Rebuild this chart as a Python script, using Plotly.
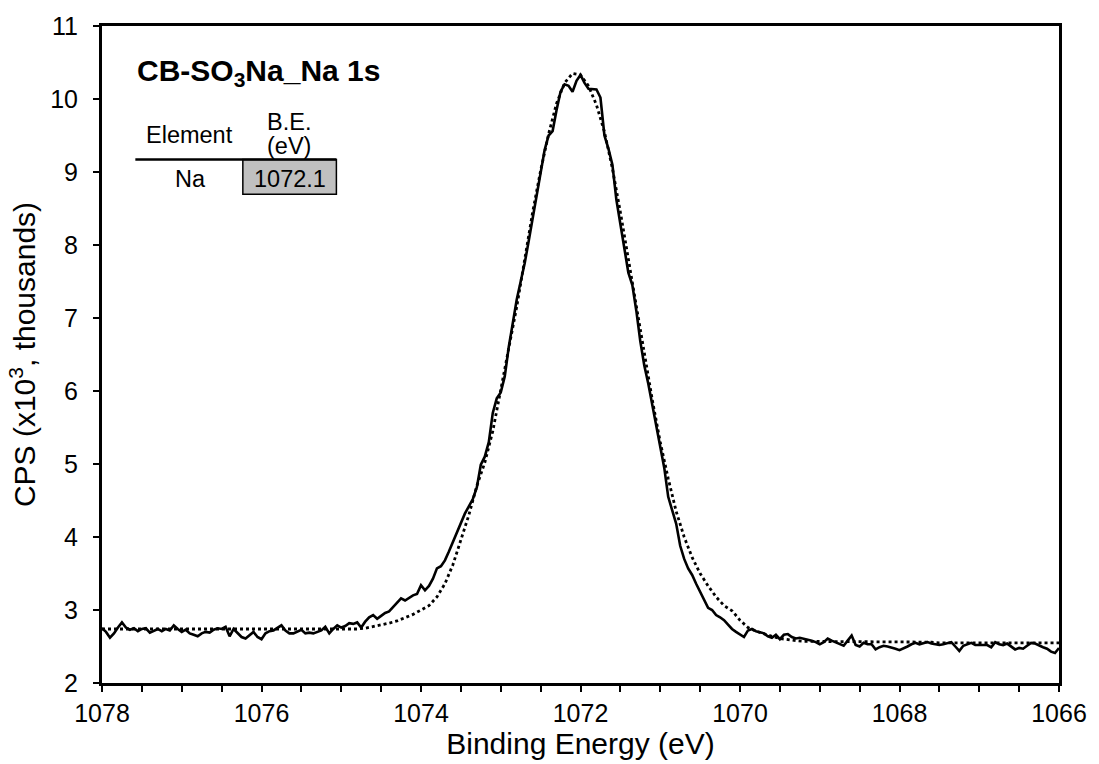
import numpy as np
import plotly.graph_objects as go

# Binding-energy grids (eV), high to low
be_meas = np.round(np.arange(1078.0, 1065.999, -0.05), 2)
be_fit = np.round(np.arange(1078.0, 1065.999, -0.1), 2)

# Measured Na 1s spectrum (CPS x10^3), 0.05 eV step
cps_meas = [
    2.75, 2.70, 2.62, 2.68, 2.76, 2.83, 2.76, 2.73, 2.75, 2.71,
    2.74, 2.75, 2.69, 2.72, 2.74, 2.71, 2.74, 2.72, 2.79, 2.74,
    2.70, 2.73, 2.68, 2.66, 2.64, 2.68, 2.70, 2.69, 2.73, 2.75,
    2.74, 2.77, 2.64, 2.74, 2.68, 2.63, 2.61, 2.66, 2.70, 2.63,
    2.60, 2.68, 2.71, 2.72, 2.75, 2.79, 2.72, 2.68, 2.68, 2.71,
    2.73, 2.68, 2.69, 2.68, 2.70, 2.72, 2.77, 2.68, 2.74, 2.79,
    2.76, 2.78, 2.82, 2.81, 2.83, 2.76, 2.84, 2.90, 2.93, 2.88,
    2.92, 2.96, 2.98, 3.04, 3.09, 3.16, 3.13, 3.17, 3.20, 3.22,
    3.34, 3.27, 3.33, 3.43, 3.57, 3.60, 3.68, 3.80, 3.93, 4.05,
    4.17, 4.32, 4.42, 4.52, 4.68, 4.99, 5.10, 5.30, 5.70, 5.90,
    5.98, 6.20, 6.60, 6.95, 7.25, 7.50, 7.75, 8.05, 8.35, 8.65,
    8.95, 9.30, 9.50, 9.56, 9.85, 10.10, 10.20, 10.18, 10.10, 10.25,
    10.33, 10.22, 10.14, 10.13, 10.13, 10.02, 9.50, 9.32, 9.10, 8.62,
    8.30, 7.92, 7.62, 7.45, 7.10, 6.68, 6.35, 6.10, 5.82, 5.55,
    5.25, 4.95, 4.55, 4.36, 4.18, 3.88, 3.70, 3.57, 3.48, 3.36,
    3.25, 3.12, 3.03, 3.00, 2.93, 2.90, 2.86, 2.80, 2.74, 2.70,
    2.66, 2.63, 2.72, 2.74, 2.71, 2.70, 2.68, 2.64, 2.62, 2.66,
    2.60, 2.66, 2.67, 2.63, 2.61, 2.62, 2.61, 2.60, 2.58, 2.56,
    2.53, 2.56, 2.61, 2.58, 2.56, 2.53, 2.51, 2.58, 2.65, 2.52,
    2.50, 2.55, 2.53, 2.53, 2.46, 2.49, 2.51, 2.50, 2.49, 2.47,
    2.45, 2.47, 2.50, 2.53, 2.55, 2.53, 2.55, 2.56, 2.54, 2.53,
    2.52, 2.53, 2.54, 2.56, 2.50, 2.44, 2.51, 2.53, 2.55, 2.52,
    2.52, 2.51, 2.52, 2.49, 2.56, 2.53, 2.52, 2.54, 2.50, 2.46,
    2.48, 2.47, 2.51, 2.55, 2.54, 2.51, 2.49, 2.47, 2.43, 2.41,
    2.48,
]

# Fitted envelope (CPS x10^3), 0.1 eV step
cps_fit = [
    2.74, 2.74, 2.74, 2.74, 2.74, 2.74, 2.74, 2.74, 2.74, 2.74,
    2.74, 2.74, 2.74, 2.74, 2.74, 2.73, 2.73, 2.73, 2.73, 2.73,
    2.73, 2.73, 2.73, 2.73, 2.73, 2.73, 2.73, 2.73, 2.73, 2.73,
    2.73, 2.73, 2.74, 2.75, 2.77, 2.79, 2.82, 2.85, 2.89, 2.94,
    3.00, 3.06, 3.18, 3.36, 3.62, 3.95, 4.30, 4.70, 5.02, 5.45,
    6.00, 6.55, 7.15, 7.80, 8.45, 9.02, 9.52, 9.94, 10.22, 10.35,
    10.33, 10.18, 9.92, 9.55, 9.05, 8.45, 7.80, 7.15, 6.50, 5.88,
    5.30, 4.80, 4.35, 4.00, 3.72, 3.50, 3.33, 3.18, 3.06, 2.99,
    2.86, 2.76, 2.71, 2.67, 2.64, 2.61, 2.59, 2.58, 2.57, 2.57,
    2.56, 2.56, 2.56, 2.56, 2.56, 2.56, 2.56, 2.56, 2.56, 2.56,
    2.56, 2.56, 2.56, 2.56, 2.56, 2.55, 2.55, 2.55, 2.55, 2.55,
    2.55, 2.55, 2.55, 2.55, 2.55, 2.55, 2.55, 2.55, 2.55, 2.55,
    2.55,
]

peak_label = "CB-SO<sub>3</sub>Na_Na 1s"
table_element = "Na"
table_be = "1072.1"

FONT = "Liberation Sans, Arial, sans-serif"

fig = go.Figure()
fig.add_trace(go.Scatter(x=be_fit, y=cps_fit, mode="lines",
                         line=dict(color="black", width=2.8, dash="dot"),
                         hoverinfo="skip"))
fig.add_trace(go.Scatter(x=be_meas, y=cps_meas, mode="lines",
                         line=dict(color="black", width=2.6),
                         hoverinfo="skip"))

W, H = 1099, 764
L, R, T, B = 101.5, 36, 23, 81
pw, ph = W - L - R, H - T - B


def px(xp):
    return (xp - L) / pw


def py(yp):
    return (H - B - yp) / ph


fig.update_layout(
    width=W, height=H,
    margin=dict(l=L, r=R, t=T, b=B),
    paper_bgcolor="white", plot_bgcolor="white",
    showlegend=False,
    font=dict(family=FONT, color="black"),
    xaxis=dict(
        range=[1078, 1066], dtick=2, tick0=1066,
        ticks="outside", ticklen=6, tickwidth=2, tickcolor="black",
        showline=True, linewidth=3, linecolor="black", mirror=True,
        showgrid=False, zeroline=False,
        tickfont=dict(size=25, family=FONT),
        minor=dict(dtick=0.5, ticks="outside", ticklen=6, tickwidth=2,
                   tickcolor="black", showgrid=False),
        title=dict(text="Binding Energy (eV)", font=dict(size=30, family=FONT),
                   standoff=2),
    ),
    yaxis=dict(
        range=[2, 11], dtick=1,
        ticks="outside", ticklen=6, tickwidth=2, tickcolor="black",
        showline=True, linewidth=3, linecolor="black", mirror=True,
        showgrid=False, zeroline=False,
        tickfont=dict(size=25, family=FONT), ticklabelstandoff=10,
        title=dict(text="CPS (x10<sup>3</sup>, thousands)",
                   font=dict(size=30, family=FONT), standoff=6),
    ),
)

ann = [
    dict(x=px(135), y=py(70), text="<b>" + peak_label + "</b>",
         xanchor="left", yanchor="middle", font=dict(size=30)),
    dict(x=px(189), y=py(132), text="Element", xanchor="center",
         yanchor="middle", font=dict(size=23.5)),
    dict(x=px(289), y=py(119), text="B.E.", xanchor="center",
         yanchor="middle", font=dict(size=23.5)),
    dict(x=px(289), y=py(144), text="(eV)", xanchor="center",
         yanchor="middle", font=dict(size=23.5)),
    dict(x=px(190), y=py(177), text=table_element, xanchor="center",
         yanchor="middle", font=dict(size=23.5)),
    dict(x=px(290), y=py(177), text=table_be, xanchor="center",
         yanchor="middle", font=dict(size=23.5)),
]
for a in ann:
    a.update(xref="paper", yref="paper", showarrow=False)
fig.update_layout(annotations=ann)

fig.add_shape(type="rect", xref="paper", yref="paper",
              x0=px(243), x1=px(337), y0=py(192), y1=py(157),
              fillcolor="#c0c0c0", line=dict(color="black", width=1.5))
fig.add_shape(type="line", xref="paper", yref="paper",
              x0=px(135), x1=px(337), y0=py(157), y1=py(157),
              line=dict(color="black", width=2.5))

fig.write_html("out.html")
